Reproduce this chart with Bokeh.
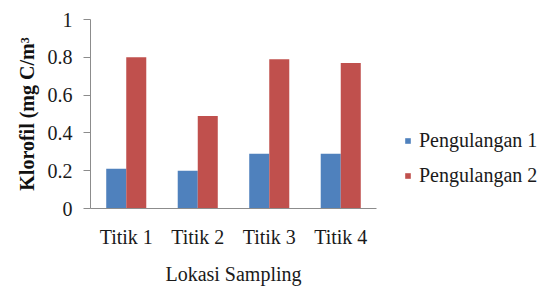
from bokeh.plotting import figure
from bokeh.layouts import row
from bokeh.models import FactorRange, Range1d, Legend, LegendItem, FixedTicker
from bokeh.transform import dodge
from bokeh.models import ColumnDataSource
from bokeh.embed import file_html
from bokeh.resources import INLINE

categories = ["Titik 1", "Titik 2", "Titik 3", "Titik 4"]
pengulangan_1 = [0.21, 0.20, 0.29, 0.29]
pengulangan_2 = [0.80, 0.49, 0.79, 0.77]
series_names = ["Pengulangan 1", "Pengulangan 2"]
y_ticks = [0, 0.2, 0.4, 0.6, 0.8, 1]
y_tick_labels = {0: "0", 0.2: "0.2", 0.4: "0.4", 0.6: "0.6", 0.8: "0.8", 1: "1"}

FONT = "Liberation Serif"
FS = "20px"
BLUE = "#4F81BD"
RED = "#C0504D"
AXIS = "#8C8C8C"
TXT = "#1a1a1a"

src = ColumnDataSource(dict(cat=categories, s1=pengulangan_1, s2=pengulangan_2))

p = figure(width=386, height=288, x_range=FactorRange(*categories, range_padding=0),
           y_range=Range1d(0, 1), output_backend="svg", toolbar_location=None,
           min_border_left=90, min_border_top=19, min_border_bottom=80, min_border_right=10)
p.outline_line_color = None
p.grid.visible = False
p.background_fill_color = "white"
p.border_fill_color = "white"

w = 0.28
r1 = p.vbar(x=dodge("cat", -0.14, range=p.x_range), top="s1", width=w, source=src,
            fill_color=BLUE, line_color=None)
r2 = p.vbar(x=dodge("cat", 0.14, range=p.x_range), top="s2", width=w, source=src,
            fill_color=RED, line_color=None)

# y axis
ya = p.yaxis[0]
ya.ticker = FixedTicker(ticks=y_ticks)
ya.major_label_overrides = y_tick_labels
ya.axis_line_color = AXIS
ya.major_tick_line_color = AXIS
ya.major_tick_out = 7
ya.major_tick_in = 0
ya.minor_tick_line_color = None
ya.major_label_text_font = FONT
ya.major_label_text_font_size = FS
ya.major_label_text_color = TXT
ya.major_label_standoff = 11
ya.axis_label = "Klorofil (mg C/m³"
ya.axis_label_text_font = FONT
ya.axis_label_text_font_size = FS
ya.axis_label_text_font_style = "bold"
ya.axis_label_text_color = "#111111"
ya.axis_label_standoff = 7

# x axis
xa = p.xaxis[0]
xa.axis_line_color = AXIS
xa.major_tick_line_color = None
xa.minor_tick_line_color = None
xa.major_label_text_font = FONT
xa.major_label_text_font_size = FS
xa.major_label_text_color = TXT
xa.major_label_standoff = 11
xa.axis_label = "Lokasi Sampling"
xa.axis_label_text_font = FONT
xa.axis_label_text_font_size = FS
xa.axis_label_text_font_style = "normal"
xa.axis_label_text_color = TXT
xa.axis_label_standoff = 12

# legend panel (separate figure at the right)
lp = figure(width=156, height=288, x_range=FactorRange(*categories), y_range=Range1d(0, 1),
            output_backend="svg", toolbar_location=None,
            x_axis_location=None, y_axis_location=None,
            min_border=0, min_border_left=0, min_border_right=0,
            min_border_top=0, min_border_bottom=0)
lp.outline_line_color = None
lp.grid.visible = False
lr1 = lp.vbar(x="cat", top="s1", width=0.1, source=src, fill_color=BLUE, line_color=None,
              visible=False)
lr2 = lp.vbar(x="cat", top="s2", width=0.1, source=src, fill_color=RED, line_color=None,
              visible=False)

legend = Legend(items=[LegendItem(label=series_names[0], renderers=[lr1]),
                       LegendItem(label=series_names[1], renderers=[lr2])],
                location=(18, 21), padding=0, margin=0, spacing=12,
                glyph_width=7, glyph_height=7, label_standoff=8,
                label_text_font=FONT, label_text_font_size=FS,
                label_text_color=TXT, label_height=20,
                inactive_fill_alpha=0,
                border_line_color=None, background_fill_alpha=0)
lp.add_layout(legend, "center")

layout = row(p, lp, spacing=0)
open("out.html", "w").write(file_html(layout, INLINE))
